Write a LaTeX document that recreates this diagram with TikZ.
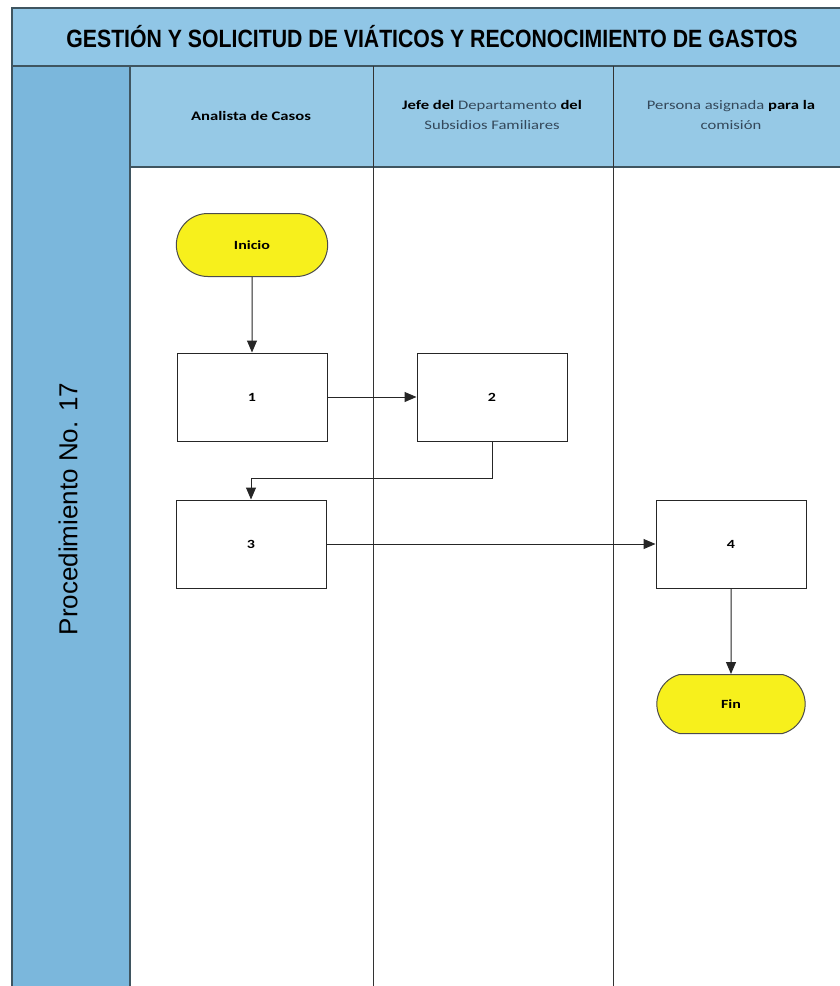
\documentclass[tikz,border=0pt]{standalone}
\usepackage{fontspec}
\setmainfont{Liberation Sans}
\newfontfamily\calibri{Carlito}
\usetikzlibrary{shapes.misc,arrows.meta}

\definecolor{bandblue}{HTML}{90C6E6}
\definecolor{hdrblue}{HTML}{96C9E6}
\definecolor{sideblue}{HTML}{7BB7DC}
\definecolor{frameline}{HTML}{3F5560}
\definecolor{termyellow}{HTML}{F7F01C}
\definecolor{softtext}{HTML}{34485A}

% wide, bold Calibri-like lettering used in the chart
\newcommand{\wideText}[1]{\scalebox{1.28}[1]{#1}}

\tikzset{
  frame/.style={draw=frameline, line width=1.4pt},
  lane/.style={draw=black!80, line width=0.95pt},
  stepbox/.style={draw=black!85, line width=1pt, fill=white, minimum width=150pt,
    minimum height=88pt, font=\calibri\bfseries\fontsize{12.5}{14}\selectfont},
  terminal/.style={rounded rectangle, draw=black!70, line width=1pt, fill=termyellow,
    font=\calibri\bfseries\fontsize{12.5}{14}\selectfont},
  lanehead/.style={align=center, font=\calibri\fontsize{13}{20}\selectfont},
  flow/.style={draw=black!85, line width=1pt, -{Triangle[length=12pt,width=10pt]}}
}

\begin{document}
\begin{tikzpicture}[x=1pt, y=-1pt]
\useasboundingbox (0,0) rectangle (840,986);
\begin{scope}
  \clip (0,0) rectangle (840,986);
  \fill[white] (0,0) rectangle (840,986);
  % title band, lane header row and the side column
  \fill[bandblue] (12,8) rectangle (860,66);
  \fill[hdrblue] (130,66) rectangle (860,167);
  \fill[sideblue] (12,66) rectangle (130,1000);
  % frame lines
  \draw[frame] (860,8) -- (12,8) -- (12,1000);
  \draw[frame] (12,66) -- (860,66);
  \draw[frame] (130,167) -- (860,167);
  \draw[frame] (130,66) -- (130,1000);
  % lane dividers
  \draw[lane] (373,66) -- (373,1000);
  \draw[lane] (613,66) -- (613,1000);
\end{scope}

% titles
\node (title) at (432,37)
  {\scalebox{0.85}[1]{\bfseries\fontsize{25}{25}\selectfont GESTIÓN Y SOLICITUD DE VIÁTICOS Y RECONOCIMIENTO DE GASTOS}};
\node[rotate=90] (proc) at (68,509) {\fontsize{26}{26}\selectfont Procedimiento No. 17};

% lane headers
\node[lanehead] (laneA) at (251,116) {\wideText{\bfseries Analista de Casos}};
\node[lanehead] (laneB) at (492,115)
  {\wideText{\textbf{Jefe del} {\color{softtext}Departamento} \textbf{del}}\\
   \wideText{\color{softtext}Subsidios Familiares}};
\node[lanehead] (laneC) at (731,115)
  {\wideText{{\color{softtext}Persona asignada} \textbf{para la}}\\
   \wideText{\color{softtext}comisión}};

% flow nodes
\node[terminal, minimum width=158pt, minimum height=63pt] (inicio) at (252,245) {\wideText{Inicio}};
\node[stepbox] (s1) at (252,397) {\wideText{1}};
\node[stepbox] (s2) at (492,397) {\wideText{2}};
\node[stepbox] (s3) at (251,544) {\wideText{3}};
\node[stepbox] (s4) at (731,544) {\wideText{4}};
\node[terminal, rounded rectangle arc length=150, minimum width=155pt, minimum height=59pt]
  (fin) at (731,704) {\wideText{Fin}};

% connectors
\draw[flow] (inicio) -- (s1);
\draw[flow] (s1) -- (s2);
\draw[flow] (s2.south) |- (492,478) -| (s3.north);
\draw[flow] (s3) -- (s4);
\draw[flow] (s4) -- (fin);
\end{tikzpicture}
\end{document}
